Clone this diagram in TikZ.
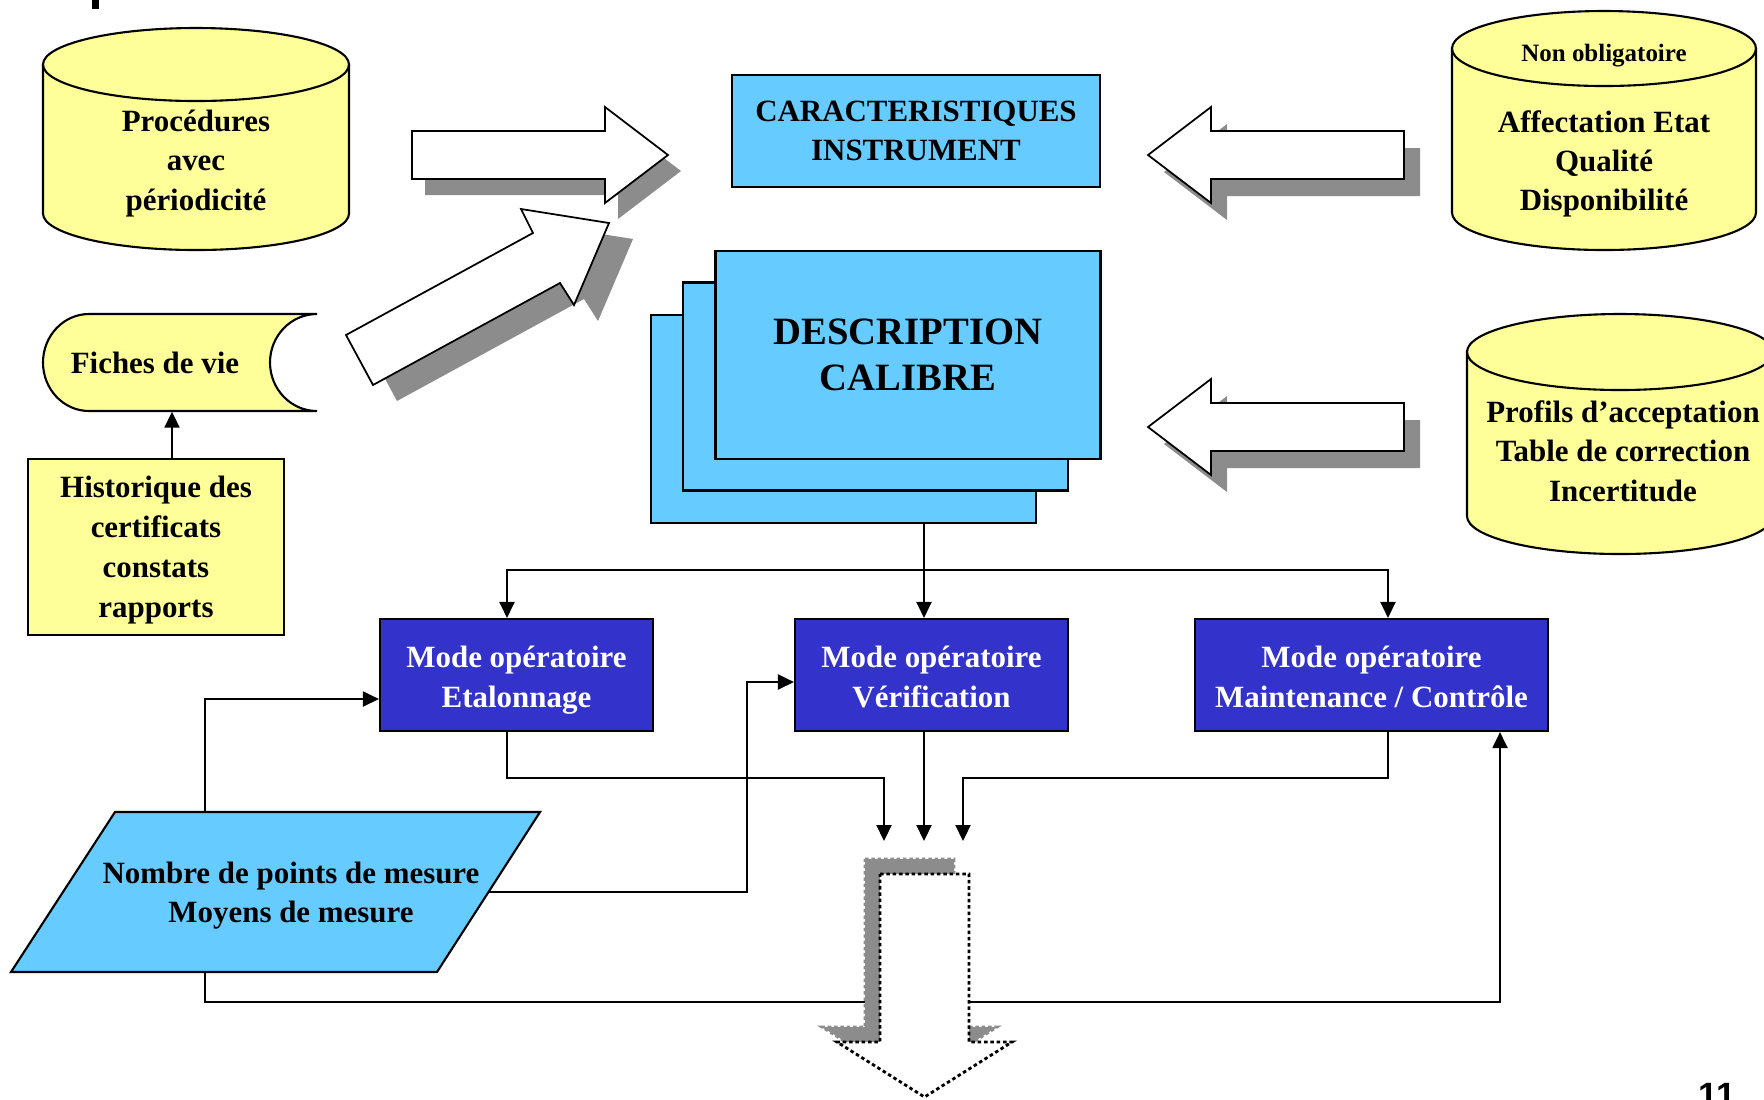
\documentclass[tikz,border=0pt]{standalone}
\usepackage{fontspec}
\setmainfont{Liberation Serif}
\setsansfont{Liberation Sans}
\usepackage{tikz}
\usetikzlibrary{arrows.meta}

\definecolor{paleyellow}{RGB}{255,255,153}
\definecolor{skyblue}{RGB}{102,204,255}
\definecolor{royal}{RGB}{51,51,204}
\definecolor{shadowgray}{RGB}{140,140,140}

\begin{document}
\begin{tikzpicture}[x=1mm,y=-1mm,
  every node/.style={font=\fontsize{8.8}{11.2}\selectfont\bfseries,align=center},
  conn/.style={line width=0.6pt},
  arr/.style={conn,-{Triangle[length=1.6mm,width=1.5mm]}},
  yellowbox/.style={draw=black,fill=paleyellow,line width=0.6pt},
  bluebox/.style={draw=black,fill=skyblue,line width=0.6pt,inner sep=0pt},
  modebox/.style={draw=black,fill=royal,text=white,line width=0.6pt,minimum height=11.2mm,inner sep=0pt,text height=18.4pt,text depth=0pt},
  blockarrow/.style={draw=black,fill=white,line width=0.5pt},
  blockshadow/.style={fill=shadowgray}]
\useasboundingbox (0,0) rectangle (176.4,109.9);
%top left mark
\fill (9.15,0) rectangle (9.9,0.85);
%cylinders:
\filldraw[yellowbox] (4.3,6.45) -- (4.3,21.35) arc[start angle=180,end angle=0,x radius=15.3,y radius=3.65] -- (34.9,6.45) arc[start angle=0,end angle=-180,x radius=15.3,y radius=3.65] -- cycle;
\draw[conn] (4.3,6.45) arc[start angle=180,end angle=0,x radius=15.3,y radius=3.65];
\node (proc) at (19.6,16.35) {Procédures\\avec\\périodicité};
\filldraw[yellowbox] (145.2,4.85) -- (145.2,21.25) arc[start angle=180,end angle=0,x radius=15.2,y radius=3.75] -- (175.6,4.85) arc[start angle=0,end angle=-180,x radius=15.2,y radius=3.75] -- cycle;
\draw[conn] (145.2,4.85) arc[start angle=180,end angle=0,x radius=15.2,y radius=3.75];
\node[font=\fontsize{7.1}{8}\selectfont\bfseries] (nonob) at (160.4,5.6) {Non obligatoire};
\node (affect) at (160.4,16.4) {Affectation Etat\\Qualité\\Disponibilité};
\filldraw[yellowbox] (146.7,35.2) -- (146.7,51.6) arc[start angle=180,end angle=0,x radius=15.3,y radius=3.8] -- (177.3,35.2) arc[start angle=0,end angle=-180,x radius=15.3,y radius=3.8] -- cycle;
\draw[conn] (146.7,35.2) arc[start angle=180,end angle=0,x radius=15.3,y radius=3.8];
\node (profils) at (162.3,45.1) {Profils d’acceptation\\Table de correction\\Incertitude};
%fiches de vie and historique
\filldraw[yellowbox] (8.9,31.4) arc[start angle=270,end angle=90,x radius=4.6,y radius=4.85] -- (31.7,41.1) arc[start angle=90,end angle=270,x radius=4.7,y radius=4.85] -- cycle;
\node[minimum height=9.7mm] (fiches) at (15.5,36.25) {Fiches de vie};
\node[yellowbox,minimum width=25.6mm,minimum height=17.6mm,inner sep=0pt,text depth=0pt,font=\fontsize{8.8}{11.4}\selectfont\bfseries] (hist) at (15.6,54.7) {Historique des\\certificats\\constats\\rapports};
\path ([xshift=1.6mm]hist.north) coordinate (histup);
\draw[arr] (histup) -- (histup |- fiches.south);
%blue boxes
\node[bluebox,minimum width=36.8mm,minimum height=11.2mm] (carac) at (91.6,13.1) {CARACTERISTIQUES\\INSTRUMENT};
\node[bluebox,minimum width=38.5mm,minimum height=20.8mm] (desca) at (84.35,41.9) {};
\node[bluebox,minimum width=38.5mm,minimum height=20.8mm] (descb) at (87.55,38.65) {};
\node[bluebox,minimum width=38.5mm,minimum height=20.8mm,font=\fontsize{11}{13.3}\selectfont\bfseries] (descc) at (90.8,35.5) {DESCRIPTION\\CALIBRE};
%block arrows
\fill[blockshadow,shift={(1.3,1.6)}] (41.2,13.1) -- (60.5,13.1) -- (60.5,10.7) -- (66.8,15.5) -- (60.5,20.3) -- (60.5,17.9) -- (41.2,17.9) -- cycle;
\filldraw[blockarrow] (41.2,13.1) -- (60.5,13.1) -- (60.5,10.7) -- (66.8,15.5) -- (60.5,20.3) -- (60.5,17.9) -- (41.2,17.9) -- cycle;
\fill[blockshadow,shift={(2.4,1.6)}] (34.6,33.5) -- (53.3,23.3) -- (52.1,20.9) -- (60.9,22.3) -- (57.4,30.5) -- (56.0,28.3) -- (37.3,38.5) -- cycle;
\filldraw[blockarrow] (34.6,33.5) -- (53.3,23.3) -- (52.1,20.9) -- (60.9,22.3) -- (57.4,30.5) -- (56.0,28.3) -- (37.3,38.5) -- cycle;
\foreach \dy in {0,27.2}{
  \fill[blockshadow,shift={(1.6,1.7+\dy)}] (140.4,13.1) -- (121.1,13.1) -- (121.1,10.7) -- (114.8,15.5) -- (121.1,20.3) -- (121.1,17.9) -- (140.4,17.9) -- cycle;
  \filldraw[blockarrow,shift={(0,\dy)}] (140.4,13.1) -- (121.1,13.1) -- (121.1,10.7) -- (114.8,15.5) -- (121.1,20.3) -- (121.1,17.9) -- (140.4,17.9) -- cycle;
}
%modes operatoires
\node[modebox,minimum width=27.3mm] (etal) at (51.65,67.5) {Mode opératoire\\Etalonnage};
\node[modebox,minimum width=27.3mm] (verif) at (93.15,67.5) {Mode opératoire\\Vérification};
\node[modebox,minimum width=35.3mm] (maint) at (137.15,67.5) {Mode opératoire\\Maintenance / Contrôle};
%parallelogram
\coordinate (pBL) at (1.1,97.2);
\coordinate (pTL) at (11.5,81.2);
\coordinate (pTR) at (54.0,81.2);
\coordinate (pBR) at (43.7,97.2);
\coordinate (pE) at (48.85,89.2);
\filldraw[draw=black,fill=skyblue,line width=0.6pt] (pBL) -- (pTL) -- (pTR) -- (pBR) -- cycle;
\node (mesure) at (29.1,89.55) {Nombre de points de mesure\\Moyens de mesure};
%connectors
\coordinate (hub) at (92.4,57.0);
\coordinate (colA) at (50.7,57.0);
\coordinate (colC) at (138.8,57.0);
\draw[arr] (hub |- desca.south) -- (hub |- verif.north);
\draw[arr] (hub) -| (colA |- etal.north);
\draw[arr] (hub) -| (colC |- maint.north);
\coordinate (inL) at (88.4,84.1);
\coordinate (inM) at (92.4,84.1);
\coordinate (inR) at (96.3,84.1);
\draw[arr] (colA |- etal.south) -- ++(0,4.6) -| (inL);
\draw[arr] (hub |- verif.south) -- (inM);
\draw[arr] (colC |- maint.south) -- ++(0,4.6) -| (inR);
\coordinate (feedA) at (20.5,69.9);
\coordinate (feedB) at (74.7,68.2);
\coordinate (feedC) at (150.0,100.2);
\draw[arr] (feedA |- pTL) -- (feedA) -- (feedA -| etal.west);
\draw[arr] (pE) -| (feedB) -- (feedB -| verif.west);
\draw[arr] (feedA |- pBL) |- (feedC) -- (feedC |- maint.south);
%dotted output arrow
\filldraw[fill=shadowgray,draw=shadowgray,line width=0.8pt,dash pattern=on 1pt off 0.8pt,shift={(-1.5,-1.5)}] (88.0,87.4) -- (96.9,87.4) -- (96.9,104.2) -- (101.2,104.2) -- (92.45,109.7) -- (83.7,104.2) -- (88.0,104.2) -- cycle;
\filldraw[fill=white,draw=black,line width=0.8pt,dash pattern=on 1pt off 0.8pt] (88.0,87.4) -- (96.9,87.4) -- (96.9,104.2) -- (101.2,104.2) -- (92.45,109.7) -- (83.7,104.2) -- (88.0,104.2) -- cycle;
%page number
\node[font=\sffamily\bfseries\fontsize{10}{10}\selectfont,inner sep=0pt,anchor=north] (pagenum) at (171.7,108.3) {11};
\end{tikzpicture}
\end{document}
